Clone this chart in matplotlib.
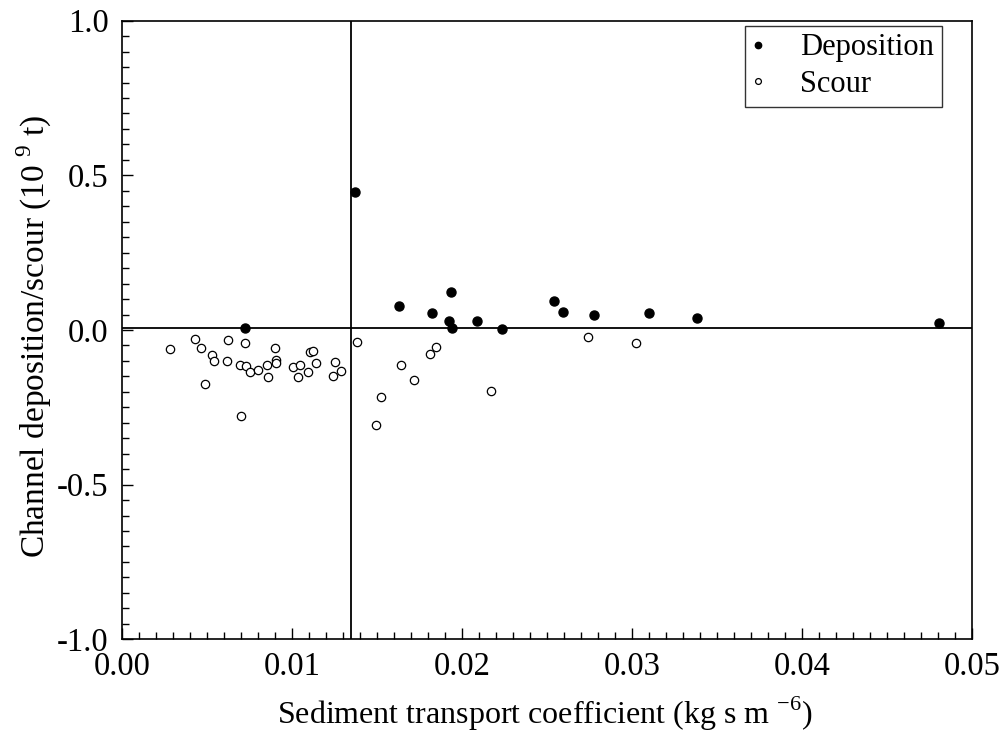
import matplotlib

matplotlib.use("Agg")
import matplotlib.pyplot as plt
from matplotlib.ticker import MultipleLocator, FormatStrFormatter

plt.rcParams["font.family"] = ["Liberation Serif", "DejaVu Serif"]
plt.rcParams["mathtext.fontset"] = "custom"
plt.rcParams["mathtext.rm"] = "Liberation Serif"
plt.rcParams["axes.unicode_minus"] = False

# deposition (filled) points
dep_x = [0.00722, 0.01369, 0.01629, 0.01824, 0.01932, 0.01922, 0.0194, 0.02087,
         0.02233, 0.02539, 0.02592, 0.02774, 0.03098, 0.0338, 0.04806]
dep_y = [0.005, 0.447, 0.077, 0.054, 0.123, 0.028, 0.005, 0.029,
         0.003, 0.094, 0.057, 0.048, 0.054, 0.040, 0.023]

# scour (open) points
scour_x = [0.00281, 0.00428, 0.00461, 0.00526, 0.00538, 0.00488, 0.0062, 0.00616,
           0.00722, 0.00691, 0.00728, 0.00751, 0.0080, 0.00697, 0.00851, 0.00856,
           0.009, 0.00904, 0.00903, 0.01006, 0.01047, 0.01034, 0.01093, 0.01105,
           0.01122, 0.01138, 0.01252, 0.01242, 0.01287, 0.01383, 0.01638, 0.01718,
           0.01522, 0.01491, 0.01812, 0.01848, 0.0217, 0.02742, 0.03023]
scour_y = [-0.062, -0.029, -0.059, -0.081, -0.099, -0.176, -0.031, -0.100,
           -0.041, -0.113, -0.118, -0.135, -0.129, -0.277, -0.114, -0.153,
           -0.059, -0.097, -0.108, -0.119, -0.112, -0.153, -0.135, -0.071,
           -0.067, -0.106, -0.102, -0.149, -0.132, -0.040, -0.113, -0.162,
           -0.216, -0.308, -0.079, -0.055, -0.197, -0.022, -0.041]

threshold_x = 0.01346
zero_y = 0.005

fig = plt.figure(figsize=(10.06, 7.37), dpi=100)
ax = fig.add_axes([0.1216, 0.1326, 0.8446, 0.8393])

ax.axvline(threshold_x, color="black", linewidth=1.3, zorder=1)
ax.axhline(zero_y, color="black", linewidth=1.3, zorder=1)

ax.plot(dep_x, dep_y, "o", color="black", markersize=6.5, label="Deposition", zorder=3)
ax.plot(scour_x, scour_y, "o", markerfacecolor="white", markeredgecolor="black",
        markeredgewidth=0.9, markersize=6, label="Scour", zorder=3)

ax.set_xlim(0, 0.05)
ax.set_ylim(-1.0, 1.0)
ax.xaxis.set_major_locator(MultipleLocator(0.01))
ax.xaxis.set_minor_locator(MultipleLocator(0.001))
ax.yaxis.set_major_locator(MultipleLocator(0.5))
ax.yaxis.set_minor_locator(MultipleLocator(0.05))
ax.xaxis.set_major_formatter(FormatStrFormatter("%.2f"))
ax.yaxis.set_major_formatter(FormatStrFormatter("%.1f"))

ax.tick_params(which="both", direction="in", top=False, right=False, width=1)
ax.tick_params(which="major", length=8, labelsize=23.5)
ax.tick_params(axis="y", which="major", pad=10)
ax.tick_params(axis="x", which="major", pad=9)
ax.tick_params(which="minor", length=5)
for s in ax.spines.values():
    s.set_linewidth(1.2)

ax.set_xlabel(r"Sediment transport coefficient (kg s m $^{-6}$)", fontsize=23)
ax.set_ylabel(r"Channel deposition/scour (10 $^{9}$ t)", fontsize=24)
ax.xaxis.set_label_coords(0.4975, -0.09)
ax.yaxis.set_label_coords(-0.08, 0.49)

leg = ax.legend(loc="upper right", bbox_to_anchor=(942 / 1006, 1 - 25.7 / 737),
                bbox_transform=fig.transFigure, fontsize=22, markerscale=0.7,
                fancybox=False, frameon=True, borderaxespad=0, borderpad=0.25,
                handletextpad=1.2, labelspacing=0.25, handlelength=0.35)
leg.get_frame().set_edgecolor("black")
leg.get_frame().set_linewidth(1.0)

fig.savefig("out.png", dpi=100)
